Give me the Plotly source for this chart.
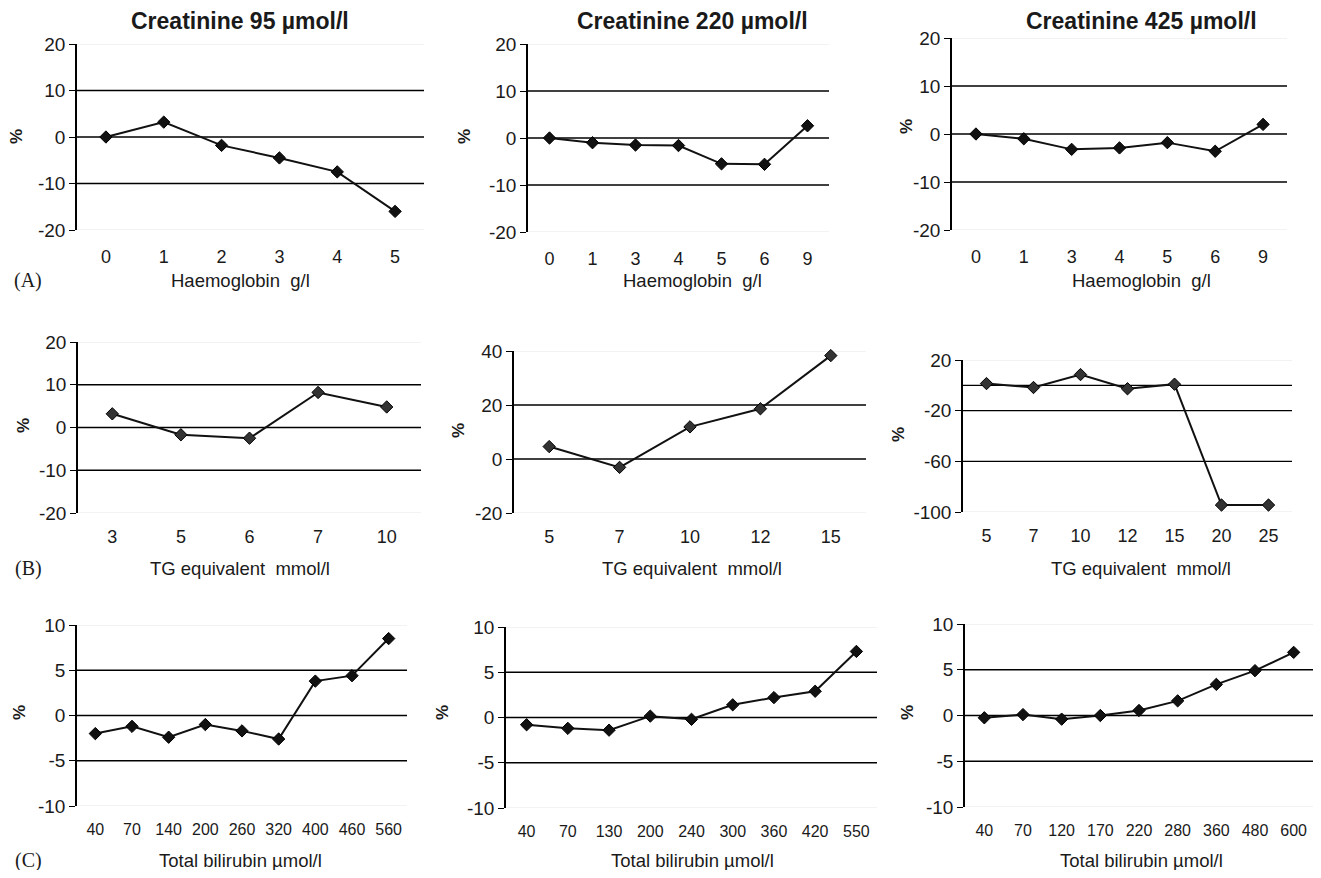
import plotly.graph_objects as go

# ---------------- data ----------------
# Row A: Haemoglobin g/l
hb_95_x = ["0", "1", "2", "3", "4", "5"]
hb_95_y = [0.0, 3.2, -1.8, -4.5, -7.5, -16.0]
hb_220_x = ["0", "1", "3", "4", "5", "6", "9"]
hb_220_y = [0.0, -1.0, -1.5, -1.6, -5.5, -5.6, 2.6]
hb_425_x = ["0", "1", "3", "4", "5", "6", "9"]
hb_425_y = [0.0, -1.0, -3.2, -2.9, -1.8, -3.6, 2.0]

# Row B: TG equivalent mmol/l
tg_95_x = ["3", "5", "6", "7", "10"]
tg_95_y = [3.2, -1.7, -2.5, 8.2, 4.8]
tg_220_x = ["5", "7", "10", "12", "15"]
tg_220_y = [4.6, -3.1, 11.9, 18.6, 38.3]
tg_425_x = ["5", "7", "10", "12", "15", "20", "25"]
tg_425_y = [1.4, -1.7, 8.5, -2.7, 0.9, -94.5, -94.5]

# Row C: Total bilirubin µmol/l
bil_95_x = ["40", "70", "140", "200", "260", "320", "400", "460", "560"]
bil_95_y = [-2.0, -1.2, -2.4, -1.0, -1.7, -2.6, 3.8, 4.4, 8.5]
bil_220_x = ["40", "70", "130", "200", "240", "300", "360", "420", "550"]
bil_220_y = [-0.8, -1.2, -1.4, 0.15, -0.2, 1.4, 2.2, 2.9, 7.3]
bil_425_x = ["40", "70", "120", "170", "220", "280", "360", "480", "600"]
bil_425_y = [-0.25, 0.1, -0.4, 0.0, 0.55, 1.6, 3.4, 4.9, 6.9]

col_titles = ["Creatinine 95 µmol/l", "Creatinine 220 µmol/l", "Creatinine 425 µmol/l"]
row_xtitles = ["Haemoglobin  g/l", "TG equivalent  mmol/l", "Total bilirubin µmol/l"]
row_labels = ["(A)", "(B)", "(C)"]

# y axis settings per panel: range, tick values, dark reference lines
yA_range, yA_ticks, yA_lines = [-20, 20], [-20, -10, 0, 10, 20], [-10, 0, 10]
yB1_range, yB1_ticks, yB1_lines = [-20, 20], [-20, -10, 0, 10, 20], [-10, 0, 10]
yB2_range, yB2_ticks, yB2_lines = [-20, 40], [-20, 0, 20, 40], [0, 20]
yB3_range, yB3_ticks, yB3_lines = [-100, 20], [-100, -60, -20, 20], [-60, -20, 0]
yC_range, yC_ticks, yC_lines = [-10, 10], [-10, -5, 0, 5, 10], [-5, 0, 5]

series = [
    (hb_95_x, hb_95_y, yA_range, yA_ticks, yA_lines),
    (hb_220_x, hb_220_y, yA_range, yA_ticks, yA_lines),
    (hb_425_x, hb_425_y, yA_range, yA_ticks, yA_lines),
    (tg_95_x, tg_95_y, yB1_range, yB1_ticks, yB1_lines),
    (tg_220_x, tg_220_y, yB2_range, yB2_ticks, yB2_lines),
    (tg_425_x, tg_425_y, yB3_range, yB3_ticks, yB3_lines),
    (bil_95_x, bil_95_y, yC_range, yC_ticks, yC_lines),
    (bil_220_x, bil_220_y, yC_range, yC_ticks, yC_lines),
    (bil_425_x, bil_425_y, yC_range, yC_ticks, yC_lines),
]

# ---------------- layout (pixel geometry, in page pixels) ----------------
OX, OY = 8, 8          # page body margin
FW, FH = 1305, 862     # figure size so the page does not overflow


def fx(x):
    return (x - OX) / FW


def fy(y):
    return 1 - (y - OY) / FH


# plot boxes: left, right, top, bottom (page px)
boxes = [
    (77, 424, 44, 230), (528, 829, 44, 232), (952, 1287, 38, 230),
    (78, 421, 342, 513), (514, 866, 351, 513), (963, 1292, 360, 512),
    (77, 407, 625, 806), (506, 877, 627, 808), (965, 1314, 624, 807),
]
col_centers = [240, 692, 1141]
title_y = 21
xtitle_y = [280, 568, 860]
label_x = 28
pct_pos = [(17, 137), (465, 137), (907, 127),
           (24, 426), (459, 431), (898, 435),
           (19, 712), (442, 713), (907, 713)]
xtick_font = [18, 18, 18, 18, 18, 18, 16, 16, 16]
xtick_standoff = [14, 14, 14, 11, 11, 11, 12, 12, 12]

FONT = "Liberation Sans, Arial, Helvetica, sans-serif"
SERIF = "Liberation Serif, Times New Roman, serif"

fig = go.Figure()
layout = dict(
    width=FW, height=FH, autosize=False,
    margin=dict(l=0, r=0, t=0, b=0, pad=0, autoexpand=False),
    paper_bgcolor="white", plot_bgcolor="white",
    showlegend=False,
    font=dict(family=FONT, color="#1a1a1a"),
)
shapes = []
annotations = []

for i, (xs, ys, yr, yt, ylines) in enumerate(series):
    n = i + 1
    sfx = "" if n == 1 else str(n)
    l, r, t, b = boxes[i]
    row = i // 3
    fill = "#333333" if row == 1 else "#111111"
    fig.add_trace(go.Scatter(
        x=xs, y=ys, mode="lines+markers",
        xaxis="x" + sfx, yaxis="y" + sfx,
        line=dict(color="#111111", width=2),
        marker=dict(symbol="diamond", size=9.5, color=fill,
                    line=dict(color="#000000", width=1)),
        cliponaxis=False,
    ))
    layout["xaxis" + sfx] = dict(
        domain=[fx(l), min(fx(r), 1.0)], anchor="y" + sfx,
        type="category", range=[-0.5, len(xs) - 0.5],
        showgrid=False, zeroline=False, showline=False, ticks="",
        tickfont=dict(size=xtick_font[i], family=FONT, color="#1a1a1a"),
        ticklabelstandoff=xtick_standoff[i],
        automargin=False, fixedrange=True,
    )
    layout["yaxis" + sfx] = dict(
        domain=[fy(b), fy(t)], anchor="x" + sfx,
        range=yr, tickvals=yt, ticktext=[str(v) for v in yt],
        showgrid=False, zeroline=False,
        showline=True, linecolor="#000000", linewidth=1.5,
        ticks="outside", ticklen=6, tickwidth=1.3, tickcolor="#000000",
        tickfont=dict(size=19, family=FONT, color="#1a1a1a"),
        automargin=False, fixedrange=True,
    )
    # faint lines at the range ends, dark reference lines inside
    for v in yr:
        shapes.append(dict(
            type="line", xref="x" + sfx + " domain", yref="y" + sfx,
            x0=0, x1=1, y0=v, y1=v, layer="below",
            line=dict(color="#e6e6e6", width=1),
        ))
    for v in ylines:
        shapes.append(dict(
            type="line", xref="x" + sfx + " domain", yref="y" + sfx,
            x0=0, x1=1, y0=v, y1=v, layer="below",
            line=dict(color="#000000", width=1.4),
        ))
    px, py = pct_pos[i]
    annotations.append(dict(
        text="<b>%</b>", x=fx(px), y=fy(py), xref="paper", yref="paper",
        showarrow=False, textangle=-90, xanchor="center", yanchor="middle",
        font=dict(size=17, family=FONT, color="#1a1a1a"),
    ))

for c in range(3):
    annotations.append(dict(
        text="<b>" + col_titles[c] + "</b>", x=fx(col_centers[c]), y=fy(title_y),
        xref="paper", yref="paper", showarrow=False,
        xanchor="center", yanchor="middle",
        font=dict(size=23, family=FONT, color="#1a1a1a"),
    ))
for rr in range(3):
    for c in range(3):
        annotations.append(dict(
            text=row_xtitles[rr], x=fx(col_centers[c]), y=fy(xtitle_y[rr]),
            xref="paper", yref="paper", showarrow=False,
            xanchor="center", yanchor="middle",
            font=dict(size=18.5, family=FONT, color="#1a1a1a"),
        ))
    annotations.append(dict(
        text=row_labels[rr], x=fx(label_x), y=fy(xtitle_y[rr]),
        xref="paper", yref="paper", showarrow=False,
        xanchor="center", yanchor="middle",
        font=dict(size=20, family=SERIF, color="#1a1a1a"),
    ))

layout["shapes"] = shapes
layout["annotations"] = annotations
fig.update_layout(**layout)
fig.write_html("out.html", config={"displayModeBar": False})
